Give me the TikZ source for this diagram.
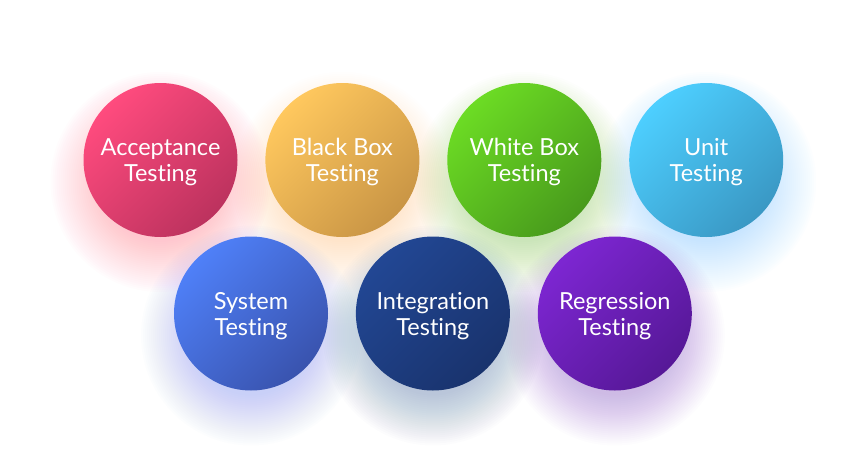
\documentclass[tikz,border=0pt]{standalone}
\usepackage{fontspec}
\setmainfont{Lato}[Ligatures=NoCommon]
\usetikzlibrary{positioning,backgrounds}

\definecolor{accL}{HTML}{FF4B7E}
\definecolor{accD}{HTML}{BC325E}
\definecolor{bbL}{HTML}{FFC85E}
\definecolor{bbD}{HTML}{C99545}
\definecolor{wbL}{HTML}{6CDC24}
\definecolor{wbD}{HTML}{489A1C}
\definecolor{unitL}{HTML}{4DCFFF}
\definecolor{unitD}{HTML}{3A98C4}
\definecolor{sysL}{HTML}{4F80F8}
\definecolor{sysD}{HTML}{3953AE}
\definecolor{intL}{HTML}{224794}
\definecolor{intD}{HTML}{19336D}
\definecolor{regL}{HTML}{7D26D2}
\definecolor{regD}{HTML}{561897}

\tikzset{
  ball/.style={circle, minimum size=154pt, inner sep=0pt, text=white, align=center,
    font=\fontsize{23.5}{26}\selectfont, text depth=0pt},
  tint/.style 2 args={top color=#1, bottom color=#2, shading angle=45},
}

\begin{document}
\begin{tikzpicture}[x=1pt,y=-1pt]
  \useasboundingbox (0,0) rectangle (865,474);

  % top row
  \node[ball, tint={accL}{accD}] (acc) at (160.5,160) {Acceptance\\Testing};
  \node[ball, tint={bbL}{bbD}, right=27.5pt of acc] (bb) {Black Box\\Testing};
  \node[ball, tint={wbL}{wbD}, right=27.5pt of bb] (wb) {White Box\\Testing};
  \node[ball, tint={unitL}{unitD}, right=27.5pt of wb] (unit) {Unit\\Testing};

  % bottom row
  \node[ball, tint={sysL}{sysD}] (sys) at (251,313.5) {System\\Testing};
  \node[ball, tint={intL}{intD}, right=27.5pt of sys] (int) {Integration\\Testing};
  \node[ball, tint={regL}{regD}, right=27.5pt of int] (reg) {Regression\\Testing};

  % glow
  \begin{scope}[on background layer]
    \fill[white] (0,0) rectangle (865,474);
    \foreach \n/\col in {acc/accL, bb/bbL, wb/wbL, unit/unitL, sys/sysL, int/intL, reg/regL}
      \foreach \r in {60,62,...,110}
        \fill[\col, opacity=0.011] ([yshift=-22pt]\n.center) circle (\r pt);
  \end{scope}
\end{tikzpicture}
\end{document}
